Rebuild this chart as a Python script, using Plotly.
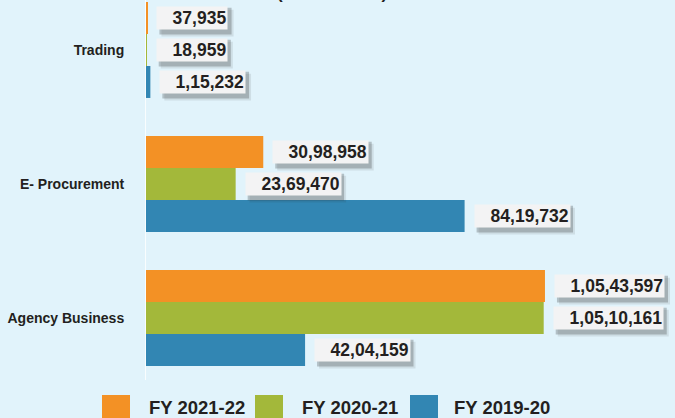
import plotly.graph_objects as go

categories = ["Trading", "E- Procurement", "Agency Business"]
series_names = ["FY 2021-22", "FY 2020-21", "FY 2019-20"]
fy_2021_22 = [37935, 3098958, 10543597]
fy_2020_21 = [18959, 2369470, 10510161]
fy_2019_20 = [115232, 8419732, 4204159]
series_values = [fy_2021_22, fy_2020_21, fy_2019_20]
colors = ["#f39125", "#a3b83a", "#3286b3"]

W, H = 675, 418
BG = "#e1f3fb"
LABEL_FONT = "Liberation Sans, Arial, sans-serif"
TEXT_COLOR = "#231f20"
VAL_SIZE = 17.5


def indian_format(n):
    s = str(int(n))
    if len(s) <= 3:
        return s
    last3 = s[-3:]
    rest = s[:-3]
    parts = []
    while len(rest) > 2:
        parts.insert(0, rest[-2:])
        rest = rest[:-2]
    if rest:
        parts.insert(0, rest)
    return ",".join(parts) + "," + last3


def est_width(txt):
    w = 0.0
    for ch in txt:
        w += 0.556 if ch.isdigit() else 0.278
    return w * VAL_SIZE


fig = go.Figure()
for name, vals, col in zip(series_names, series_values, colors):
    fig.add_trace(go.Bar(
        y=categories, x=vals, name=name, orientation="h",
        marker=dict(color=col, line=dict(width=0)),
        showlegend=False, hoverinfo="skip",
    ))

# value labels with shadowed boxes
offsets = [-32, 0, 32]  # pixel offsets of bars within a group (top to bottom)
annotations = []
shapes = []
PAD = 1
XS = 9
for vals, off in zip(series_values, offsets):
    for cat, v in zip(categories, vals):
        txt = "\u00a0\u00a0\u00a0" + indian_format(v)
        bw = est_width(txt) + 2 * PAD + 2
        bh = VAL_SIZE * 1.3 + 2 * PAD + 2
        cy = -off
        for dx, dy, alpha in [(5, -5, 0.10), (3, -3, 0.25)]:
            shapes.append(dict(type="rect", xref="x", yref="y", xsizemode="pixel", ysizemode="pixel",
                               xanchor=v, yanchor=cat, layer="above",
                               x0=XS + dx, x1=XS + dx + bw,
                               y0=cy + dy - bh / 2, y1=cy + dy + bh / 2,
                               fillcolor=f"rgba(40,40,40,{alpha})", line=dict(width=0)))
        annotations.append(dict(x=v, y=cat, xref="x", yref="y", xanchor="left", yanchor="middle",
                                showarrow=False, text=txt, borderpad=PAD, xshift=XS, yshift=cy,
                                bgcolor="#f3f3f4",
                                font=dict(family=LABEL_FONT, size=VAL_SIZE, color=TEXT_COLOR, weight="bold")))

# manual legend
sq_x = [102, 255, 410]
txt_x = [147, 300, 452]
for name, col, sx, tx in zip(series_names, colors, sq_x, txt_x):
    shapes.append(dict(type="rect", xref="paper", yref="paper",
                       x0=sx / W, x1=(sx + 28) / W, y0=1 - 421 / H, y1=1 - 395 / H,
                       fillcolor=col, line=dict(width=0)))
    annotations.append(dict(x=tx / W, y=1 - 407 / H, xref="paper", yref="paper",
                            xanchor="left", yanchor="middle", showarrow=False, text=name,
                            font=dict(family=LABEL_FONT, size=18.5, color=TEXT_COLOR, weight="bold")))

# partially visible title at top
annotations.append(dict(x=332 / W, y=1, xref="paper", yref="paper", xanchor="center",
                        yanchor="bottom", yshift=-5, showarrow=False, text="(Amount in ₹)",
                        font=dict(family=LABEL_FONT, size=17, color=TEXT_COLOR, weight="bold")))

fig.update_layout(
    width=W, height=H,
    margin=dict(l=0, r=0, t=0, b=0),
    paper_bgcolor=BG, plot_bgcolor=BG,
    barmode="group", bargap=0.284, bargroupgap=0,
    showlegend=False,
    annotations=annotations, shapes=shapes,
    xaxis=dict(domain=[146 / W, 1], range=[0, 13980000], visible=False,
               showgrid=False, zeroline=False, fixedrange=True),
    yaxis=dict(domain=[38 / H, 1], range=[2.4627, -0.3731], showgrid=False, zeroline=False,
               showline=True, linecolor="rgba(255,255,255,0.8)", linewidth=1,
               ticks="", ticklabelstandoff=18, automargin=False, fixedrange=True,
               tickfont=dict(family=LABEL_FONT, size=14,
                             color=TEXT_COLOR, weight="bold")),
)

fig.write_html("out.html", config={"displayModeBar": False},
               post_script="document.body.style.margin='0';document.body.style.overflow='hidden';")
